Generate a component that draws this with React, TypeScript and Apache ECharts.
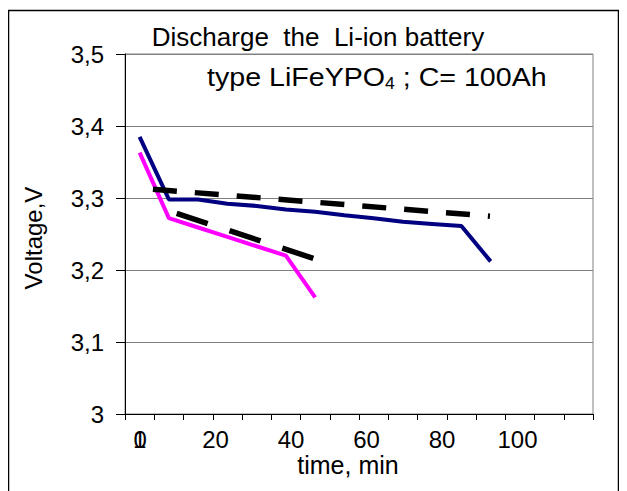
import React, { useEffect, useRef } from "react";
import * as echarts from "echarts";

const categories = ["1", "2", "3", "4", "5", "6", "7", "8", "9", "10", "11", "12", "13", "14", "15", "16"];
const blueValues = [3.385, 3.298, 3.298, 3.292, 3.289, 3.284, 3.281, 3.276, 3.272, 3.267, 3.264, 3.261, 3.212];
const pinkValues = [3.363, 3.272, 3.259, 3.246, 3.233, 3.220, 3.162];
const upperTrend: [number, number][] = [[3.4, 3.3121], [92.7, 3.2748]];
const lowerTrend: [number, number][] = [[9.7, 3.2787], [45.9, 3.2162]];
const timeTicks = [0, 20, 40, 60, 80, 100];

const FONT = "Liberation Sans, Arial, sans-serif";

export default function App() {
  const ref = useRef<HTMLDivElement>(null);
  useEffect(() => {
    if (!ref.current) return;
    const chart = echarts.init(ref.current, undefined, { renderer: "svg" });
    chart.setOption({
      animation: false,
      backgroundColor: "#ffffff",
      textStyle: { fontFamily: FONT, color: "#000" },
      grid: {
        left: 117,
        right: 26,
        top: 46,
        bottom: 77,
        show: true,
        borderColor: "#808080",
        borderWidth: 1,
        containLabel: false,
      },
      xAxis: [
        {
          type: "category",
          data: categories,
          boundaryGap: true,
          position: "bottom",
          axisLine: { show: true, onZero: false, lineStyle: { color: "#000", width: 1 } },
          axisTick: { show: true, alignWithLabel: false, length: 6, lineStyle: { color: "#000" } },
          axisLabel: {
            show: true,
            interval: 0,
            margin: 13,
            fontSize: 24,
            fontFamily: FONT,
            color: "#000",
            formatter: (v: string, i: number) => (i === 0 ? v : ""),
          },
          splitLine: { show: false },
        },
        {
          type: "value",
          min: -4,
          max: 120,
          position: "bottom",
          axisLine: { show: false, onZero: false },
          axisTick: { show: false },
          splitLine: { show: false },
          axisLabel: {
            show: true,
            margin: 13,
            fontSize: 24,
            fontFamily: FONT,
            color: "#000",
            customValues: timeTicks,
          },
        },
      ],
      yAxis: {
        type: "value",
        min: 3,
        max: 3.5,
        interval: 0.1,
        axisLine: { show: true, onZero: false, lineStyle: { color: "#000", width: 1 } },
        axisTick: { show: true, length: 9, lineStyle: { color: "#000" } },
        axisLabel: {
          margin: 21,
          fontSize: 24,
          fontFamily: FONT,
          color: "#000",
          formatter: (v: number) => (Math.abs(v - 3) < 1e-9 ? "3" : v.toFixed(1).replace(".", ",")),
        },
        splitLine: { show: true, lineStyle: { color: "#808080", width: 1 } },
      },
      series: [
        {
          type: "line",
          xAxisIndex: 0,
          data: blueValues,
          symbol: "none",
          lineStyle: { color: "#000080", width: 4 },
          z: 3,
        },
        {
          type: "line",
          xAxisIndex: 0,
          data: pinkValues,
          symbol: "none",
          lineStyle: { color: "#FF00FF", width: 4 },
          z: 3,
        },
        {
          type: "line",
          xAxisIndex: 1,
          data: upperTrend,
          symbol: "none",
          lineStyle: { color: "#000", width: 5.5, type: [24, 18] },
          z: 4,
        },
        {
          type: "line",
          xAxisIndex: 1,
          data: lowerTrend,
          symbol: "none",
          lineStyle: { color: "#000", width: 5.5, type: [32.6, 23] },
          z: 4,
        },
      ],
      graphic: [
        {
          type: "rect",
          shape: { x: 0.5, y: 2.5, width: 610, height: 520 },
          style: { fill: "none", stroke: "#000", lineWidth: 1.5 },
          silent: true,
        },
        {
          type: "text",
          x: 310,
          y: 29,
          style: {
            text: "Discharge  the  Li-ion battery",
            font: `26px ${FONT}`,
            fill: "#000",
            align: "center",
            verticalAlign: "middle",
          },
        },
        {
          type: "text",
          x: 199,
          y: 69,
          scaleX: 1.1,
          style: {
            text: "{a|type LiFeYPO}{s|4}{a| ; C= 100Ah}",
            fill: "#000",
            align: "left",
            verticalAlign: "middle",
            rich: {
              a: { fontSize: 26, fontFamily: FONT, color: "#000", lineHeight: 30 },
              s: { fontSize: 16, fontFamily: FONT, color: "#000", lineHeight: 30, padding: [13, 0, 0, 0] },
            },
          },
        },
        {
          type: "text",
          x: 340,
          y: 457,
          style: {
            text: "time, min",
            font: `25px ${FONT}`,
            fill: "#000",
            align: "center",
            verticalAlign: "middle",
          },
        },
        {
          type: "text",
          x: 25,
          y: 230,
          rotation: Math.PI / 2,
          style: {
            text: "Voltage,V",
            font: `24px ${FONT}`,
            fill: "#000",
            align: "center",
            verticalAlign: "middle",
          },
        },
      ],
    });
    return () => chart.dispose();
  }, []);
  return <div ref={ref} style={{ width: 611, height: 483 }} />;
}
